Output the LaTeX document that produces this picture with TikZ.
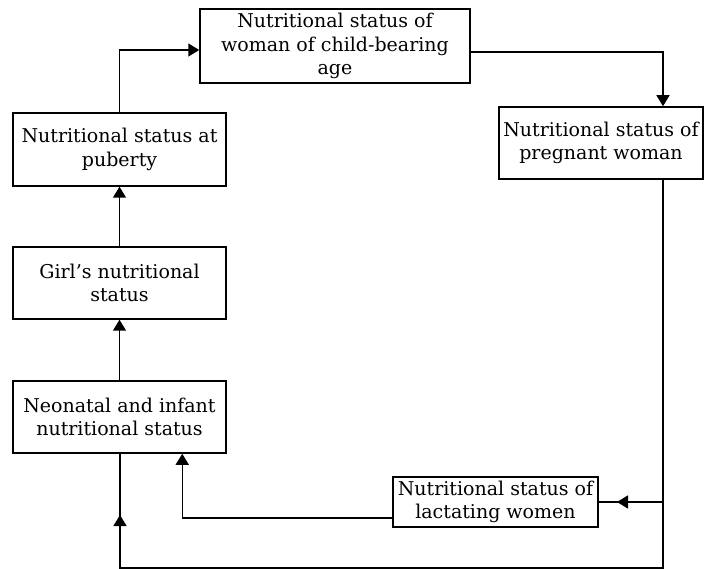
\documentclass[tikz,border=0pt]{standalone}
\usepackage{fontspec}
\setmainfont{DejaVu Serif}
\usetikzlibrary{arrows.meta,calc}
\begin{document}
\begin{tikzpicture}[x=1pt,y=-1pt,
  box/.style={draw, line width=1.5pt, rectangle, align=center, inner sep=0pt,
    font=\fontsize{19}{23.5}\selectfont},
  link/.style={line width=1.5pt},
  tip/.style={-{Triangle[length=11pt,width=13pt]}}]
\useasboundingbox (0,0) rectangle (718,569);
\node[box, minimum width=270pt, minimum height=74pt] (woman) at (335,46)
  {Nutritional status of\\woman of child-bearing\\age};
\node[box, minimum width=204pt, minimum height=72pt] (pregnant) at (601,143)
  {Nutritional status of\\pregnant woman};
\node[box, minimum width=213pt, minimum height=73pt] (puberty) at (119.5,149.5)
  {Nutritional status at\\puberty};
\node[box, minimum width=213pt, minimum height=72pt] (girl) at (119.5,283)
  {Girl's nutritional\\status};
\node[box, minimum width=213pt, minimum height=72pt] (neonatal) at (119.5,417)
  {Neonatal and infant\\nutritional status};
\node[box, minimum width=205pt, minimum height=50pt] (lactating) at (495.5,502)
  {Nutritional status of\\lactating women};

\coordinate (busR) at (663,568);
\coordinate (busL) at (120,568);
\coordinate (midA) at (120,515);
\coordinate (midB) at (617,502);

% puberty -> woman
\draw[link,tip] (puberty.north) |- ($(woman.west)+(0,4)$);
% woman -> pregnant
\draw[link,tip] ($(woman.east)+(0,6)$) -| (pregnant.north -| busR);
% pregnant -> bus -> neonatal
\draw[link] (pregnant.south -| busR) -- (busR) -- (busL) -- (neonatal.south -| busL);
\draw[link,tip] (busL) -- (midA);
% bus -> lactating
\draw[link] (busR |- lactating.east) -- (lactating.east);
\draw[link,tip] (busR |- lactating.east) -- (midB);
% lactating -> neonatal
\draw[link,tip] ($(lactating.south west)+(0,-10)$) -| ($(neonatal.south west)+(170,0)$);
% neonatal -> girl -> puberty
\draw[link,tip] (neonatal.north) -- (girl.south);
\draw[link,tip] (girl.north) -- (puberty.south);
\end{tikzpicture}
\end{document}
